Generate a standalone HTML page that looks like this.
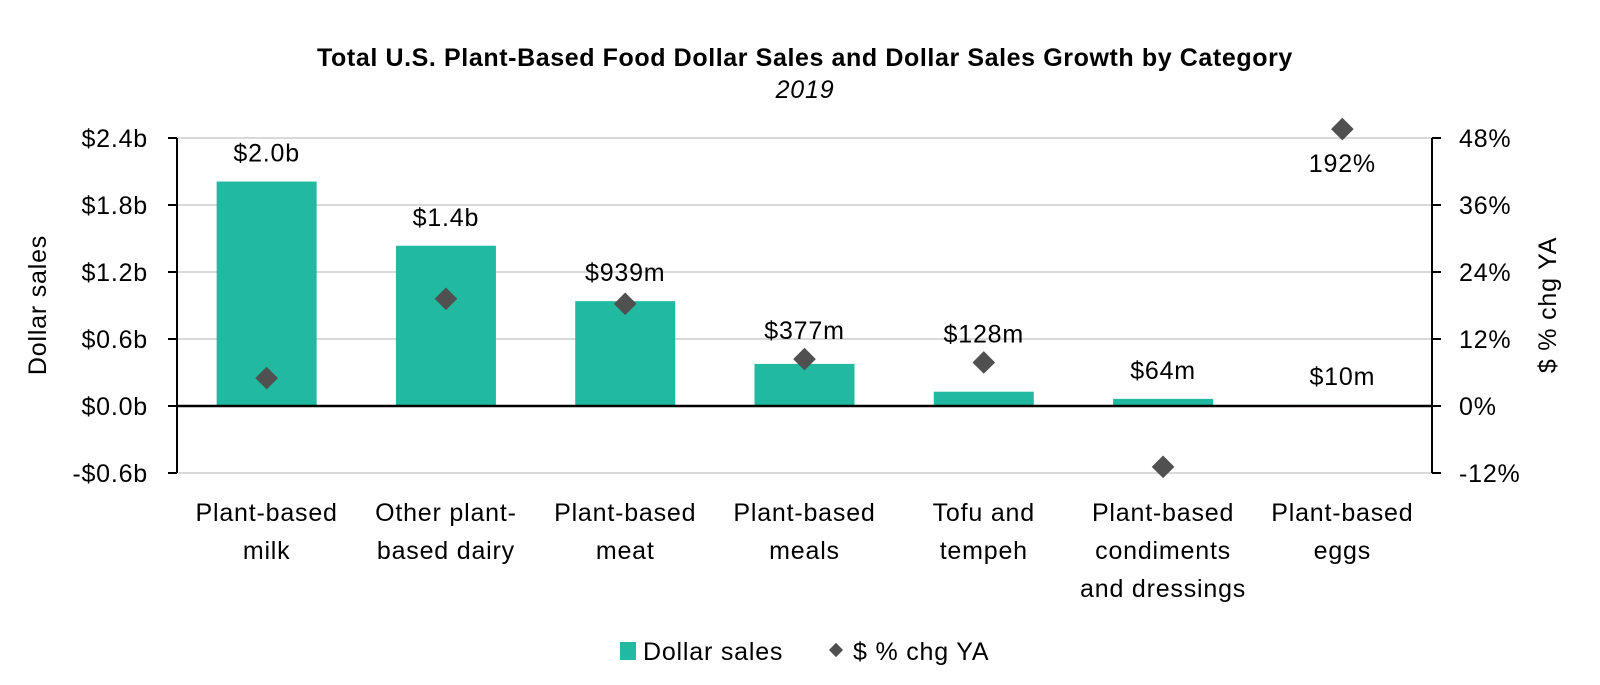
<!DOCTYPE html>
<html><head><meta charset="utf-8"><style>
body{margin:0;background:#fff;}
svg text{font-family:"Liberation Sans",sans-serif;fill:#000;}
</style></head><body>
<svg id="chart" width="1600" height="680" viewBox="0 0 1600 680">
<text x="805" y="66" text-anchor="middle" font-size="25" font-weight="bold" letter-spacing="0.6">Total U.S. Plant-Based Food Dollar Sales and Dollar Sales Growth by Category</text>
<text x="805" y="98" text-anchor="middle" font-size="25" font-style="italic" letter-spacing="0.8">2019</text>
<text transform="translate(46,305) rotate(-90)" text-anchor="middle" font-size="25" letter-spacing="0.8">Dollar sales</text>
<text transform="translate(1556,305) rotate(-90)" text-anchor="middle" font-size="25" letter-spacing="0.8">$ % chg YA</text>
<g id="grid"></g><g id="bars"></g><g id="axes"></g><g id="marks"></g><g id="labels"></g>
<g>
<rect x="620" y="642" width="16" height="18" fill="#21B9A0"/>
<text x="643" y="660" font-size="25" letter-spacing="0.8">Dollar sales</text>
<rect x="831" y="645" width="10" height="10" fill="#505050" transform="rotate(45 836 650)"/>
<text x="853" y="660" font-size="25" letter-spacing="0.8">$ % chg YA</text>
</g>
</svg>
<script>
const categories=[["Plant-based","milk"],["Other plant-","based dairy"],["Plant-based","meat"],["Plant-based","meals"],["Tofu and","tempeh"],["Plant-based","condiments","and dressings"],["Plant-based","eggs"]];
const sales=[2.01,1.435,0.939,0.377,0.128,0.064,0.01];
const salesLabels=["$2.0b","$1.4b","$939m","$377m","$128m","$64m","$10m"];
const growth=[5.0,19.2,18.3,8.4,7.8,-10.9,49.6];
const growthLabels=[null,null,null,null,null,null,"192%"];
const leftTicks=[-0.6,0,0.6,1.2,1.8,2.4];
const leftTickLabels=["-$0.6b","$0.0b","$0.6b","$1.2b","$1.8b","$2.4b"];
const rightTicks=[-12,0,12,24,36,48];
const rightTickLabels=["-12%","0%","12%","24%","36%","48%"];

const X0=177,X1=1432,Y0=406,YSTEP=67;
const NS="http://www.w3.org/2000/svg";
const FS=25, LS=0.8;
const yL=v=>Y0-v/0.6*YSTEP;
const yR=v=>Y0-v/12*YSTEP;
const cw=(X1-X0)/categories.length;
const xC=i=>X0+cw*(i+0.5);
function mk(tag,attrs,parent){const e=document.createElementNS(NS,tag);for(const k in attrs)e.setAttribute(k,attrs[k]);document.getElementById(parent).appendChild(e);return e;}

leftTicks.forEach((t,i)=>{
  if(t!==0){const g=mk('line',{x1:X0,x2:X1,y1:yL(t),y2:yL(t),stroke:'#d9d9d9','stroke-width':2},'grid');
  
  }
  const tk=mk('line',{x1:X0-9,x2:X0,y1:yL(t),y2:yL(t),stroke:'#000','stroke-width':2},'axes');
  
  
  const tx=mk('text',{x:X0-29,y:yL(t)+9,'text-anchor':'end','font-size':FS,'letter-spacing':LS},'axes');
  tx.textContent=leftTickLabels[i];
  
  
});
rightTicks.forEach((t,i)=>{
  const tk=mk('line',{x1:X1,x2:X1+9,y1:yR(t),y2:yR(t),stroke:'#000','stroke-width':2},'axes');
  
  
  const tx=mk('text',{x:X1+27,y:yR(t)+9,'font-size':FS,'letter-spacing':LS},'axes');
  tx.textContent=rightTickLabels[i];
  
  
});
let a=mk('line',{x1:X0,x2:X0,y1:yL(2.4),y2:yL(-0.6),stroke:'#000','stroke-width':2},'axes');


a=mk('line',{x1:X1,x2:X1,y1:yR(48),y2:yR(-12),stroke:'#000','stroke-width':2},'axes');


a=mk('line',{x1:X0,x2:X1,y1:Y0,y2:Y0,stroke:'#000','stroke-width':2.5},'axes');



const bw=100;
categories.forEach((c,i)=>{
  const top=yL(sales[i]);
  const b=mk('rect',{x:xC(i)-bw/2,y:top,width:bw,height:Y0-top,fill:'#21B9A0'},'bars');
  
  
  const dy=yR(growth[i]);
  const d=mk('rect',{x:xC(i)-8,y:dy-8,width:16,height:16,fill:'#505050',transform:`rotate(45 ${xC(i)} ${dy})`},'marks');
  
  
  let ly=top;
  if(dy<top && top-dy<40) ly=dy;
  const l=mk('text',{x:xC(i),y:ly-29+9,'text-anchor':'middle','font-size':FS,'letter-spacing':LS},'labels');
  l.textContent=salesLabels[i];
  
  
  if(growthLabels[i]){
    const g=mk('text',{x:xC(i),y:dy+34+9,'text-anchor':'middle','font-size':FS,'letter-spacing':LS},'labels');
    g.textContent=growthLabels[i];
    
    
  }
  c.forEach((line,j)=>{
    const t=mk('text',{x:xC(i),y:521+j*38,'text-anchor':'middle','font-size':FS,'letter-spacing':LS},'labels');
    t.textContent=line;
    
    
  });
});
</script>
</body></html>
